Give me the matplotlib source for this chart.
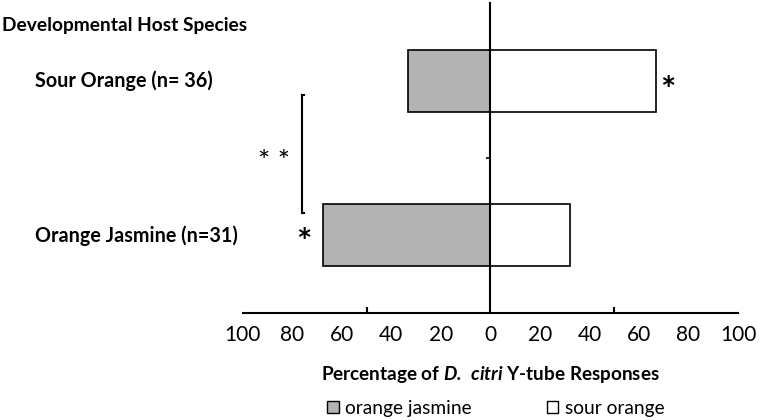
import matplotlib
matplotlib.use('Agg')
import matplotlib.pyplot as plt
import matplotlib.transforms as mtransforms
from matplotlib.patches import Patch

plt.rcParams['font.family'] = ['Lato', 'DejaVu Sans']
plt.rcParams['mathtext.fontset'] = 'custom'
plt.rcParams['mathtext.bfit'] = 'Lato:italic:bold'

# data
categories = ['Sour Orange (n= 36)', 'Orange Jasmine (n=31)']
jasmine_pct = [33.3, 67.7]   # % choosing orange jasmine
sour_pct = [66.7, 32.3]      # % choosing sour orange
tick_vals = [-100, -80, -60, -40, -20, 0, 20, 40, 60, 80, 100]

gray = '#b3b3b3'
ypos = [1, 0]

fig = plt.figure(figsize=(7.77, 4.2), dpi=100)
ax = fig.add_axes([0.3124, 0.2548, 0.6374, 0.738])

ax.barh(ypos, [-v for v in jasmine_pct], height=0.4, color=gray, edgecolor='black', linewidth=1.2)
ax.barh(ypos, sour_pct, height=0.4, color='white', edgecolor='black', linewidth=1.2)

ax.set_xlim(-100, 100)
ax.set_ylim(-0.5, 1.5)

for s in ['top', 'right']:
    ax.spines[s].set_visible(False)
ax.spines['left'].set_position(('data', 0))
ax.spines['left'].set_linewidth(1.5)
ax.spines['bottom'].set_linewidth(1.5)
ax.set_zorder(1)

ax.set_xticks(tick_vals)
ax.set_xticklabels([str(abs(v)) for v in tick_vals], fontsize=15)
ax.tick_params(axis='x', which='major', length=0, pad=9)
ax.set_xticks([-100, -50, 0, 50, 100], minor=True)
ax.tick_params(axis='x', which='minor', length=4, width=1.5, direction='in')
ax.set_yticks([0.5])
ax.set_yticklabels([''])
ax.tick_params(axis='y', length=3, width=1.2)

ax.set_xlabel(r'Percentage of $\mathbfit{D.\ citri}$ Y-tube Responses',
              fontsize=13.6, fontweight='bold', labelpad=13)

# category labels on the left
trans = mtransforms.blended_transform_factory(fig.transFigure, ax.transData)
for y, lab in zip(ypos, categories):
    ax.text(0.045, y, lab, transform=trans, fontsize=14.2, fontweight='bold',
            ha='left', va='center')
fig.text(0.003, 0.94, 'Developmental Host Species', fontsize=13.8, fontweight='bold',
         ha='left', va='center')

# significance marks
ax.text(sour_pct[0] + 5, ypos[0] - 0.07, '*', fontsize=26, fontweight='bold', ha='center', va='center')
ax.text(-jasmine_pct[1] - 7.5, ypos[1] - 0.05, '*', fontsize=26, fontweight='bold', ha='center', va='center')
ax.plot([-76, -76], [0.145, 0.906], color='black', lw=1.5)
ax.plot([-76, -75.2], [0.906, 0.906], color='black', lw=1.5)
ax.plot([-76, -75.2], [0.145, 0.145], color='black', lw=1.5)
ax.text(-87.5, 0.47, '* *', fontsize=21, ha='center', va='center')

handles = [Patch(facecolor=gray, edgecolor='black', linewidth=1, label='orange jasmine'),
           Patch(facecolor='white', edgecolor='black', linewidth=1, label='sour orange')]
fig.legend(handles=handles, loc='center', bbox_to_anchor=(0.638, 0.028), ncol=2,
           frameon=False, fontsize=13.8, handlelength=0.6, handleheight=0.6,
           handletextpad=0.35, columnspacing=3.9)

fig.savefig('out.png', dpi=100)
